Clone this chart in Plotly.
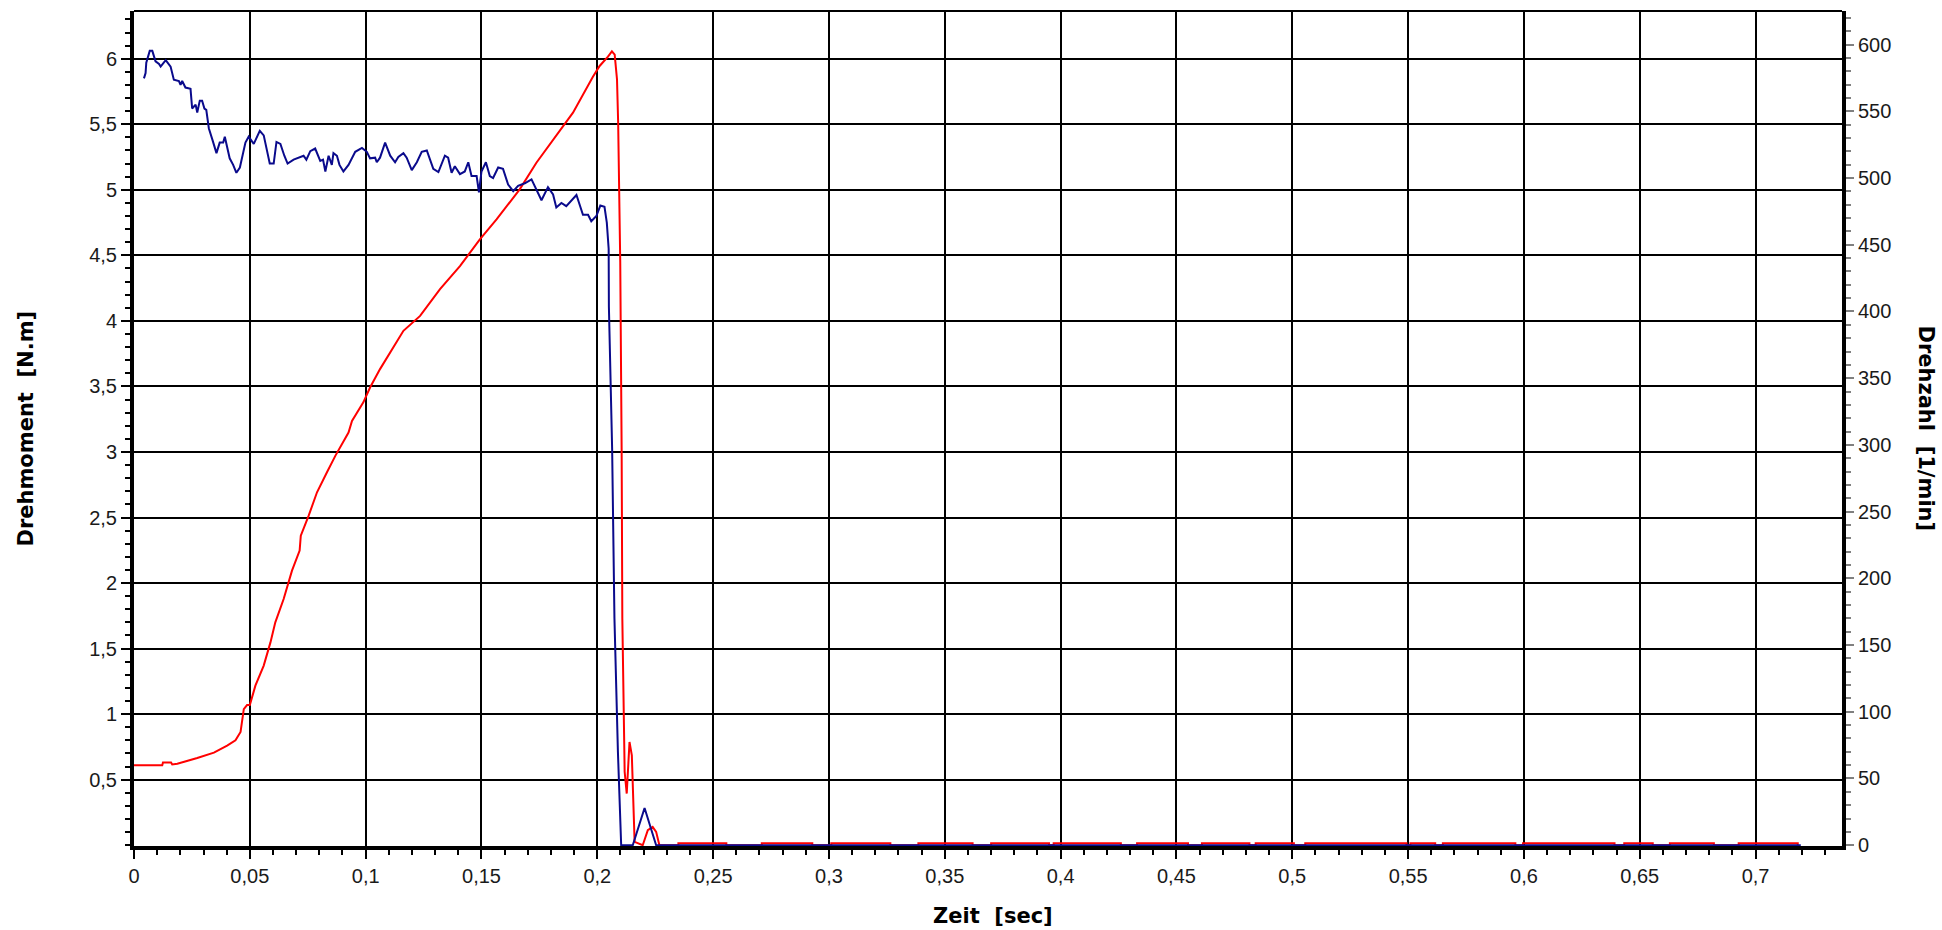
import plotly.graph_objects as go

# ---------------- data ----------------
X_TICKS = [0, 0.05, 0.1, 0.15, 0.2, 0.25, 0.3, 0.35, 0.4, 0.45, 0.5, 0.55, 0.6, 0.65, 0.7]
X_TICK_TEXT = ["0", "0,05", "0,1", "0,15", "0,2", "0,25", "0,3", "0,35", "0,4", "0,45",
               "0,5", "0,55", "0,6", "0,65", "0,7"]
TORQUE_TICKS = [0.5, 1, 1.5, 2, 2.5, 3, 3.5, 4, 4.5, 5, 5.5, 6]
TORQUE_TICK_TEXT = ["0,5", "1", "1,5", "2", "2,5", "3", "3,5", "4", "4,5", "5", "5,5", "6"]
RPM_TICKS = [0, 50, 100, 150, 200, 250, 300, 350, 400, 450, 500, 550, 600]
RPM_TICK_TEXT = ["0", "50", "100", "150", "200", "250", "300", "350", "400", "450", "500", "550", "600"]

# Drehmoment [N.m] (blue, left axis)
TORQUE_T = [0.0043, 0.005, 0.0053, 0.0068, 0.0079, 0.0093, 0.0108, 0.0115, 0.0137, 0.0158,
            0.0172, 0.0194, 0.0201, 0.0208, 0.0222, 0.0244, 0.0251, 0.0266, 0.0273, 0.0284,
            0.0294, 0.0304, 0.0312, 0.0323, 0.0338, 0.0356, 0.037, 0.0385, 0.0392, 0.0402,
            0.0413, 0.0428, 0.0442, 0.0457, 0.0481, 0.0495, 0.0517, 0.0543, 0.056, 0.0586,
            0.0603, 0.0615, 0.0632, 0.0649, 0.0663, 0.0689, 0.0715, 0.0732, 0.0744, 0.0761,
            0.0782, 0.0804, 0.0816, 0.0826, 0.084, 0.0854, 0.0861, 0.0876, 0.0887, 0.0904,
            0.0926, 0.0945, 0.0955, 0.0984, 0.1005, 0.1019, 0.1041, 0.1048,
            0.1062, 0.1084, 0.1106, 0.1127, 0.1141, 0.1163, 0.1177, 0.1199, 0.1221, 0.1242,
            0.1264, 0.1292, 0.1314, 0.1342, 0.1356, 0.1371, 0.1385, 0.1407, 0.1428, 0.1443,
            0.1457, 0.1479, 0.1489, 0.15, 0.1519, 0.1536, 0.155, 0.1572, 0.1593, 0.1615,
            0.1637, 0.1658, 0.1687, 0.1716, 0.1737, 0.1759, 0.1787, 0.1809, 0.1823, 0.1845,
            0.1866, 0.1888, 0.191, 0.1938, 0.196, 0.1974, 0.1996, 0.2013, 0.2031, 0.2041,
            0.2049, 0.205, 0.2056, 0.2064, 0.2074, 0.2089, 0.2103, 0.2153, 0.2204, 0.2254,
            0.7195]
TORQUE_NM = [5.85, 5.89, 5.97, 6.06, 6.06, 5.98, 5.96, 5.94, 5.99, 5.94,
             5.84, 5.83, 5.80, 5.83, 5.78, 5.77, 5.62, 5.65, 5.59, 5.68,
             5.68, 5.62, 5.61, 5.47, 5.385, 5.28, 5.36, 5.36, 5.405, 5.33,
             5.24, 5.19, 5.13, 5.17, 5.36, 5.405, 5.35, 5.45, 5.415, 5.20,
             5.20, 5.365, 5.35, 5.26, 5.20, 5.23, 5.245, 5.26, 5.23, 5.295,
             5.315, 5.22, 5.23, 5.14, 5.26, 5.19, 5.28, 5.26, 5.19, 5.14,
             5.19, 5.26, 5.29, 5.32, 5.29, 5.24, 5.245, 5.21,
             5.245, 5.36, 5.26, 5.21, 5.25, 5.28, 5.245, 5.15, 5.21, 5.29,
             5.30, 5.16, 5.135, 5.26, 5.245, 5.13, 5.18, 5.12, 5.14, 5.21,
             5.105, 5.105, 4.98, 5.14, 5.21, 5.105, 5.09, 5.17, 5.16, 5.04,
             4.99, 5.03, 5.05, 5.08, 5.0, 4.92, 5.02, 4.965, 4.865, 4.90,
             4.875, 4.92, 4.96, 4.81, 4.81, 4.76, 4.80, 4.88, 4.87, 4.75,
             4.55, 4.11, 3.68, 3.02, 1.73, 0.71, 0, 0, 0.284, 0,
             0]

# Drehzahl [1/min] (red, right axis)
SPEED_T = [0, 0.0122, 0.0125, 0.016, 0.0165, 0.0187, 0.0273, 0.0345, 0.0402, 0.0438,
           0.046, 0.0474, 0.0488, 0.050, 0.0524, 0.056, 0.0589, 0.061, 0.0646, 0.0682,
           0.0715, 0.072, 0.0754, 0.079, 0.0833, 0.0869, 0.0926, 0.0941, 0.099, 0.1019,
           0.1062, 0.1163, 0.1235, 0.1321, 0.1407, 0.1493, 0.1565, 0.1665, 0.1737, 0.1809,
           0.1895, 0.1981, 0.201, 0.2046, 0.2063, 0.2075, 0.2085, 0.209, 0.2099, 0.2105,
           0.2108, 0.2118, 0.2127, 0.2139, 0.2149, 0.2161, 0.2175, 0.2196, 0.2218, 0.2239,
           0.2254, 0.2268]
SPEED_RPM = [60, 60, 62, 62, 60.5, 61, 65.4, 69.4, 74.7, 78.6,
             84.9, 102, 105, 105, 119.6, 134.6, 152, 167, 184.5, 205.8,
             220.8, 232, 247, 264.5, 279.5, 291.8, 309.3, 318, 331.9, 343,
             356.8, 385.5, 396.7, 416.7, 434, 454, 469, 491.5, 511.5, 529,
             549, 576, 584, 591, 595, 592.5, 574, 541.5, 436.7, 297,
             169.7, 55, 38.7, 77.4, 67.4, 2.5, 1.3, 0, 11.2, 13.7,
             10, 0]
# small red noise segments lying just above zero after the stop
NOISE_START = [0.235, 0.271, 0.301, 0.3386, 0.37, 0.397, 0.433, 0.461, 0.4842, 0.5056,
               0.551, 0.565, 0.5996, 0.6433, 0.663, 0.6927]
NOISE_END = [0.2557, 0.2928, 0.3265, 0.362, 0.395, 0.426, 0.455, 0.4815, 0.5007, 0.5493,
             0.5617, 0.5963, 0.6391, 0.6556, 0.682, 0.7182]
NOISE_RPM = 1.5

# ---------------- build traces ----------------
speed_t = list(SPEED_T)
speed_v = list(SPEED_RPM)
for s, e in zip(NOISE_START, NOISE_END):
    speed_t += [s, s, e, e]
    speed_v += [0, NOISE_RPM, NOISE_RPM, 0]

TICK_FONT = dict(family="Arial, Liberation Sans, sans-serif", size=20, color="#1a1a1a")
TITLE_FONT = dict(family="DejaVu Sans, Verdana, sans-serif", size=21, color="black")

L, R, T, B = 134, 100, 11, 84
PW = 1942 - L - R
PH = 930 - T - B

fig = go.Figure()
fig.add_trace(go.Scatter(x=speed_t, y=speed_v, yaxis="y", mode="lines",
                         line=dict(color="#ff0000", width=2), name="Drehzahl"))
fig.add_trace(go.Scatter(x=TORQUE_T, y=TORQUE_NM, yaxis="y2", mode="lines",
                         line=dict(color="#0a0a8c", width=2), name="Drehmoment"))

fig.update_layout(
    width=1942, height=930,
    margin=dict(l=L, r=R, t=T, b=B),
    paper_bgcolor="white", plot_bgcolor="white",
    showlegend=False,
    xaxis=dict(
        range=[0, 0.7373], tickmode="array", tickvals=X_TICKS, ticktext=X_TICK_TEXT,
        ticks="outside", ticklen=9, tickwidth=2, tickcolor="black",
        showline=True, linewidth=4, linecolor="black",
        showgrid=True, gridcolor="black", gridwidth=2, zeroline=False,
        tickfont=TICK_FONT,
        minor=dict(tick0=0, dtick=0.01, ticks="outside", ticklen=5, tickwidth=2,
                   tickcolor="black", showgrid=False),
    ),
    yaxis=dict(
        side="right", range=[-0.6, 625.2], tickmode="array", tickvals=RPM_TICKS,
        ticktext=RPM_TICK_TEXT,
        ticks="outside", ticklen=8, tickwidth=2, tickcolor="#808080",
        showline=True, linewidth=4, linecolor="black",
        showgrid=False, zeroline=False, tickfont=TICK_FONT,
        minor=dict(tick0=0, dtick=10, ticks="outside", ticklen=5, tickwidth=2,
                   tickcolor="#808080", showgrid=False),
    ),
    yaxis2=dict(
        overlaying="y", side="left", range=[-0.006, 6.364], tickmode="array",
        tickvals=TORQUE_TICKS, ticktext=TORQUE_TICK_TEXT,
        ticks="outside", ticklen=9, tickwidth=2, tickcolor="black",
        showline=True, linewidth=4, linecolor="black",
        showgrid=True, gridcolor="black", gridwidth=2, zeroline=False,
        tickfont=TICK_FONT,
        minor=dict(tick0=0, dtick=0.1, ticks="outside", ticklen=5, tickwidth=2,
                   tickcolor="black", showgrid=False),
    ),
    shapes=[dict(type="line", xref="paper", yref="paper", x0=0, x1=1, y0=1, y1=1,
                 line=dict(color="black", width=2))],
    annotations=[
        dict(text="<b>Drehmoment  [N.m]</b>", xref="paper", yref="paper",
             x=(25 - L) / PW, y=0.5, textangle=-90, showarrow=False,
             xanchor="center", yanchor="middle", font=TITLE_FONT),
        dict(text="<b>Drehzahl  [1/min]</b>", xref="paper", yref="paper",
             x=(1926 - L) / PW, y=0.5, textangle=90, showarrow=False,
             xanchor="center", yanchor="middle", font=TITLE_FONT),
        dict(text="<b>Zeit  [sec]</b>", xref="paper", yref="paper",
             x=(993 - L) / PW, y=-(916 - (T + PH)) / PH, showarrow=False,
             xanchor="center", yanchor="middle", font=TITLE_FONT),
    ],
)

fig.write_html(
    "out.html",
    config={"displayModeBar": False},
    post_script="document.body.style.margin='0';document.body.style.overflow='hidden';",
)
